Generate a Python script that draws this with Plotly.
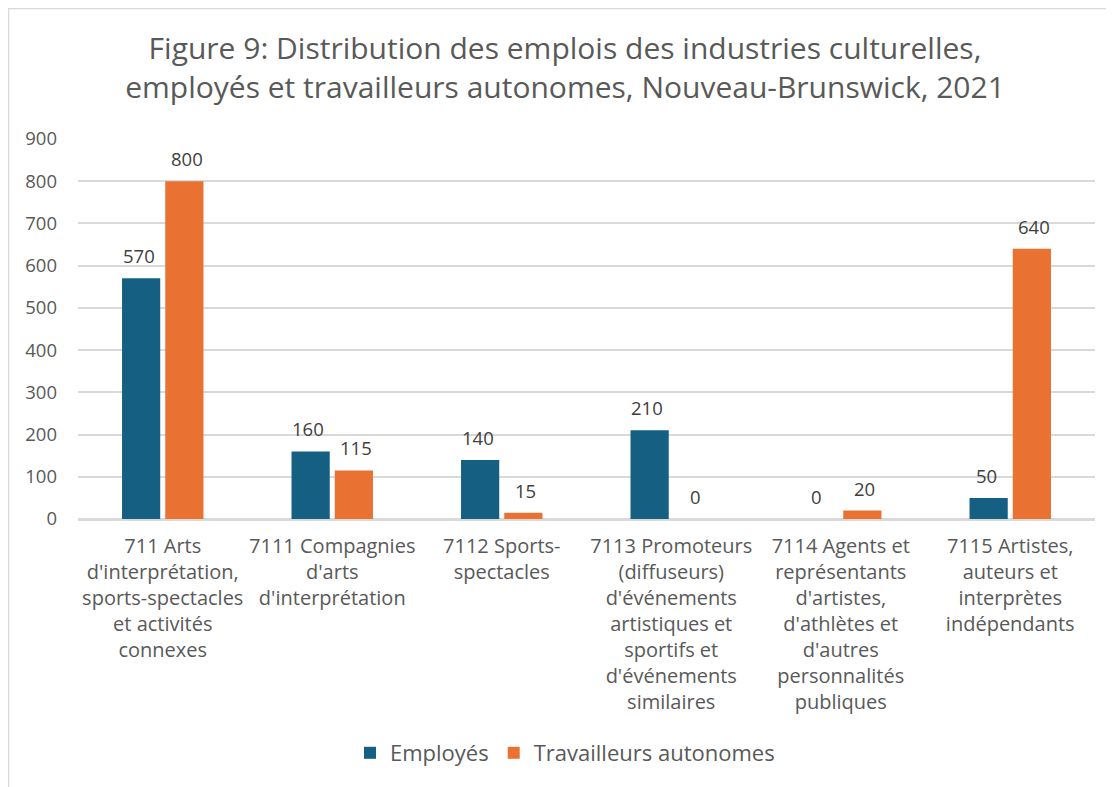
import plotly.graph_objects as go

categories = [
    "711 Arts<br>d'interprétation,<br>sports-spectacles<br>et activités<br>connexes",
    "7111 Compagnies<br>d'arts<br>d'interprétation",
    "7112 Sports-<br>spectacles",
    "7113 Promoteurs<br>(diffuseurs)<br>d'événements<br>artistiques et<br>sportifs et<br>d'événements<br>similaires",
    "7114 Agents et<br>représentants<br>d'artistes,<br>d'athlètes et<br>d'autres<br>personnalités<br>publiques",
    "7115 Artistes,<br>auteurs et<br>interprètes<br>indépendants",
]
employes = [570, 160, 140, 210, 0, 50]
autonomes = [800, 115, 15, 0, 20, 640]
series_names = ["Employés", "Travailleurs autonomes"]
colors = ["#156082", "#E97132"]

FONT = "Open Sans"
W, H = 1114, 787
OFF = 8  # page body margin
ml, mr, mt, mb = 78 - OFF, W - (1095 - OFF), 139 - OFF, H - (519 - OFF)

fig = go.Figure()
for name, vals, col in zip(series_names, [employes, autonomes], colors):
    fig.add_trace(go.Bar(
        x=categories, y=vals, name=name, marker=dict(color=col, line=dict(width=0)),
    ))

annotations = []
for vals, xs in zip([employes, autonomes], [-24, 24]):
    for c, v in zip(categories, vals):
        annotations.append(dict(
            x=c, y=v, xref="x", yref="y", text=str(v), showarrow=False,
            xshift=xs, yshift=8, yanchor="bottom",
            font=dict(family=FONT, size=18.5, color="#404040"),
        ))

pw = W - ml - mr
ph = H - mt - mb
shapes = [dict(
    type="rect", xref="paper", yref="paper",
    x0=(0.5 - ml) / pw, x1=(W + 10 - ml) / pw,
    y0=(H - mb - (H + 10)) / ph, y1=(H - mb - 0.5) / ph,
    line=dict(color="#d9d9d9", width=1.5), fillcolor="rgba(0,0,0,0)", layer="below",
)]

fig.update_layout(
    width=W, height=H,
    margin=dict(l=ml, r=mr, t=mt, b=mb, pad=0, autoexpand=False),
    paper_bgcolor="white", plot_bgcolor="white",
    font=dict(family=FONT, color="#595959"),
    title=dict(
        text="Figure 9: Distribution des emplois des industries culturelles,<br>employés et travailleurs autonomes, Nouveau-Brunswick, 2021",
        x=0.5, xanchor="center", xref="container", y=1 - (59 - OFF) / H, yanchor="middle",
        font=dict(family=FONT, size=30, color="#595959"),
    ),
    barmode="group", bargap=0.49, bargroupgap=0.116,
    xaxis=dict(
        type="category",
        tickfont=dict(family=FONT, size=20, color="#595959"),
        tickangle=0, automargin=False,
        showgrid=False, showline=True, linecolor="#d9d9d9", linewidth=1.5,
        ticks="", ticklabelstandoff=8,
    ),
    yaxis=dict(
        range=[0, 900], dtick=100, tick0=0, automargin=False,
        showgrid=True, gridcolor="#d9d9d9", gridwidth=1.5,
        zeroline=True, zerolinecolor="#d9d9d9", zerolinewidth=1.5,
        tickfont=dict(family=FONT, size=18.5, color="#595959"),
        ticks="", ticklabelstandoff=20,
    ),
    legend=dict(
        orientation="h", x=0.5, xanchor="center", xref="container",
        y=(H - mb - (753 - OFF)) / ph, yanchor="middle",
        font=dict(family=FONT, size=22, color="#595959"),
        itemsizing="constant", traceorder="normal", itemwidth=30,
    ),
    annotations=annotations,
    shapes=shapes,
    showlegend=True,
)

fig.write_html("out.html")
